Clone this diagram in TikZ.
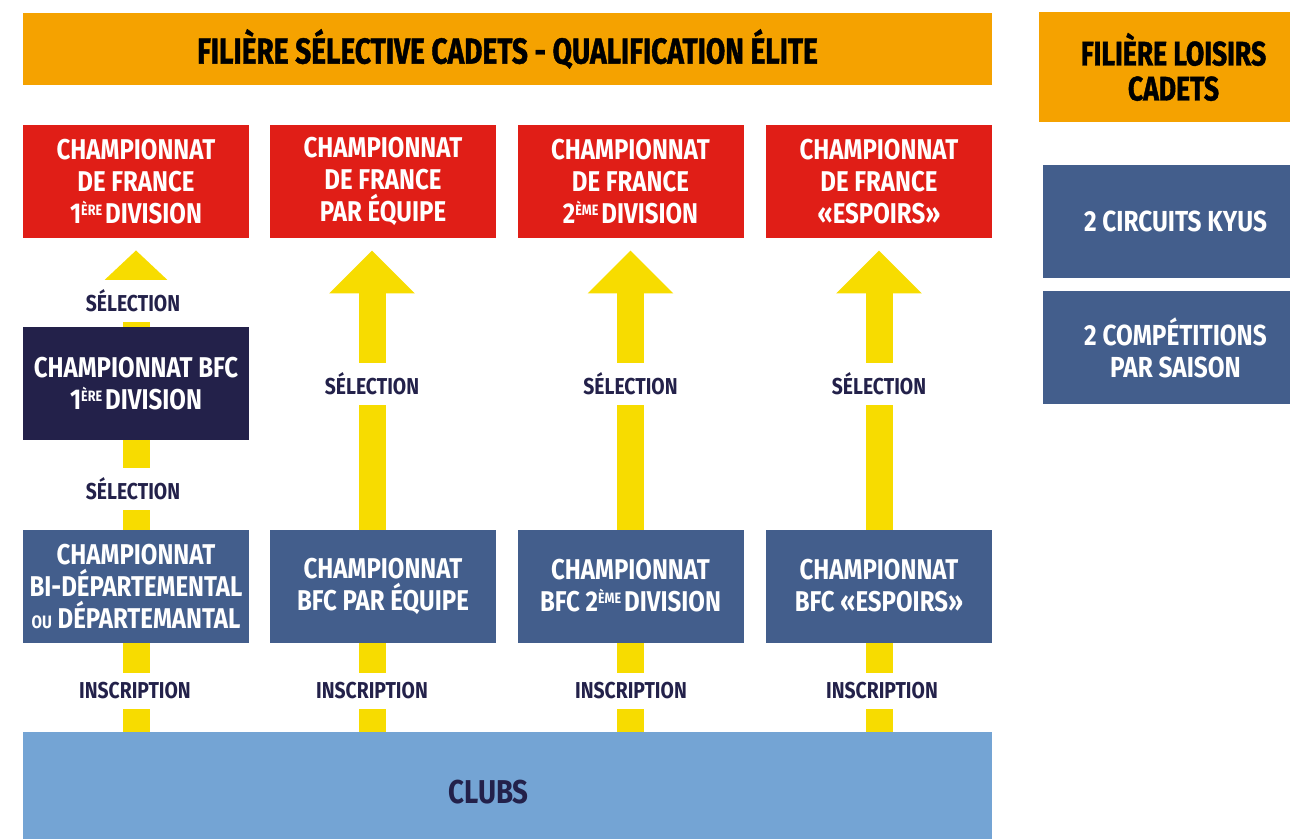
\documentclass[tikz,border=0pt]{standalone}
\usepackage{fontspec}
\setmainfont{Fira Sans}[FakeStretch=0.84]
\newfontfamily\heavyfont{Fira Sans}[FakeStretch=0.78, BoldFeatures={FakeBold=1.2}]
\usetikzlibrary{arrows.meta,backgrounds}
\definecolor{orangefil}{HTML}{F5A200}
\definecolor{redfr}{HTML}{E01E17}
\definecolor{navybfc}{HTML}{23214A}
\definecolor{bluebfc}{HTML}{435E8C}
\definecolor{blueclub}{HTML}{74A4D4}
\definecolor{yellowarr}{HTML}{F7DC00}
\newcommand\expo[1]{\raisebox{0.55ex}{\fontsize{7.5}{7.5}\selectfont #1}\hspace{1.5pt}}
\begin{document}
\begin{tikzpicture}[x=0.5pt,y=-0.5pt,
    box/.style={inner sep=0pt, align=center, text=white, font=\bfseries\fontsize{14.3}{16}\selectfont,
        minimum width=113pt, minimum height=56.5pt},
    redbox/.style={box, fill=redfr},
    navybox/.style={box, fill=navybfc},
    bluebox/.style={box, fill=bluebfc},
    titlebox/.style={box, fill=orangefil, text=black},
    steplabel/.style={fill=white, text=navybfc, inner xsep=2pt, inner ysep=5pt,
        font=\bfseries\fontsize{11.5}{12}\selectfont},
    yarrow/.style={yellowarr, line width=13.5pt, shorten >=6pt,
        -{Triangle[width=41.5pt,length=21.5pt]}}]
    \useasboundingbox (0,0) rectangle (1290,839);
    % titles
    \node[titlebox, minimum width=484.5pt, minimum height=36pt, font=\heavyfont\bfseries\fontsize{18}{18}\selectfont] (elite) at (507.5,49)
        {\rule{0pt}{15pt}FILIÈRE SÉLECTIVE CADETS - QUALIFICATION ÉLITE};
    \node[titlebox, minimum width=125.5pt, minimum height=55pt, font=\heavyfont\bfseries\fontsize{17}{17.5}\selectfont] (loisirs) at (1164.5,67)
        {\hspace{9pt}FILIÈRE LOISIRS\\\hspace{9pt}CADETS};
    % championnats de France
    \node[redbox] (fr1) at (136,181.5) {CHAMPIONNAT\\DE FRANCE\\1\expo{ÈRE}DIVISION};
    \node[redbox] (fr2) at (383,181.5) {CHAMPIONNAT\\DE FRANCE\\PAR ÉQUIPE};
    \node[redbox] (fr3) at (630.5,181.5) {CHAMPIONNAT\\DE FRANCE\\2\expo{ÈME}DIVISION};
    \node[redbox] (fr4) at (879,181.5) {CHAMPIONNAT\\DE FRANCE\\«ESPOIRS»};
    % regional / departemental
    \node[navybox] (bfc1) at (136,383.5) {CHAMPIONNAT BFC\\1\expo{ÈRE}DIVISION};
    \node[bluebox] (dep) at (136,586) {CHAMPIONNAT\\BI-DÉPARTEMENTAL\\{\fontsize{9}{9}\selectfont OU} DÉPARTEMANTAL};
    \node[bluebox] (bfc2) at (383,586) {CHAMPIONNAT\\BFC PAR ÉQUIPE};
    \node[bluebox] (bfc3) at (630.5,586) {CHAMPIONNAT\\BFC 2\expo{ÈME}DIVISION};
    \node[bluebox] (bfc4) at (879,586) {CHAMPIONNAT\\BFC «ESPOIRS»};
    % clubs
    \node[box, fill=blueclub, text=navybfc, minimum width=484.5pt, minimum height=53.5pt,
        font=\bfseries\fontsize{16.5}{17}\selectfont] (clubs) at (507.5,785.5) {\rule{0pt}{18pt}CLUBS\hspace{19pt}};
    % loisirs
    \node[bluebox, minimum width=123.5pt, font=\bfseries\fontsize{14.5}{16}\selectfont] (kyus) at (1166.5,221.5) {\hspace{9pt}2 CIRCUITS KYUS};
    \node[bluebox, minimum width=123.5pt, font=\bfseries\fontsize{14.5}{16}\selectfont] (compet) at (1166.5,347.5) {\hspace{9pt}2 COMPÉTITIONS\\\hspace{9pt}PAR SAISON};
    % yellow arrows
    \begin{pgfonlayer}{background}
        \draw[yarrow, -{Triangle[width=31pt,length=15pt]}] (clubs.north -| fr1) -- (fr1.south);
        \draw[yarrow] ([xshift=-5.5pt]clubs.north -| fr2) -- ([xshift=-5.5pt]fr2.south);
        \draw[yarrow] (clubs.north -| fr3) -- (fr3.south);
        \draw[yarrow] (clubs.north -| fr4) -- (fr4.south);
    \end{pgfonlayer}
    % labels
    \node[steplabel] (sel1a) at (133,301) {SÉLECTION};
    \node[steplabel] (sel1b) at (133,489) {SÉLECTION};
    \node[steplabel] (sel2) at (372,384) {SÉLECTION};
    \node[steplabel] (sel3) at (630.5,384) {SÉLECTION};
    \node[steplabel] (sel4) at (879,384) {SÉLECTION};
    \node[steplabel] (ins1) at (135,691) {INSCRIPTION};
    \node[steplabel] (ins2) at (372,691) {INSCRIPTION};
    \node[steplabel] (ins3) at (631,691) {INSCRIPTION};
    \node[steplabel] (ins4) at (882,691) {INSCRIPTION};
\end{tikzpicture}
\end{document}
